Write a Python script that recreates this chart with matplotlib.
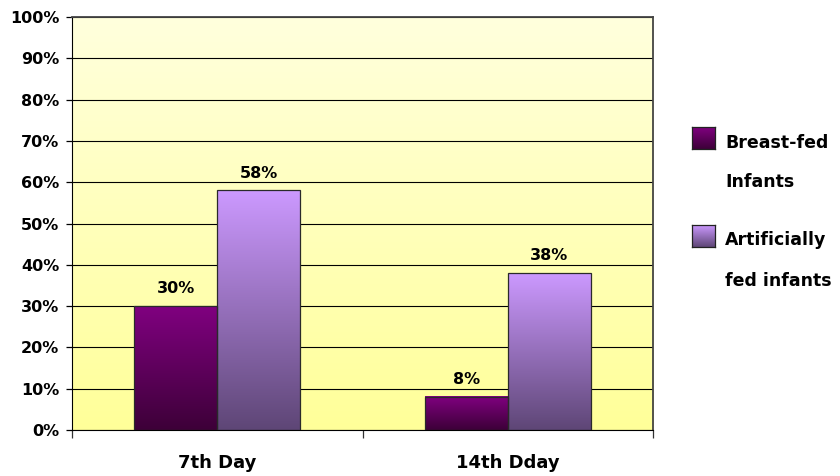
import numpy as np
import matplotlib.pyplot as plt
from matplotlib.colors import LinearSegmentedColormap

plt.rcParams['font.family'] = ['DejaVu Sans']
plt.rcParams['font.weight'] = 'bold'

categories = ['7th Day', '14th Dday']
series_names = ['Breast-fed\n\nInfants', 'Artificially\n\nfed infants']
breast_fed = [30, 8]
artificial = [58, 38]
y_ticks = list(range(0, 101, 10))

# gradient colours, (bottom, top)
grad_colors = [('#3d0038', '#800080'), ('#5e4676', '#cc99ff')]
bg_colors = ('#ffff99', '#ffffdd')

fig = plt.figure(figsize=(8.4, 4.76), dpi=100)
ax = fig.add_axes([0.0857, 0.0966, 0.6917, 0.8676])

x = np.arange(len(categories))
w = 0.286
ax.set_xlim(-0.5, len(categories) - 0.5)
ax.set_ylim(0, 100)

# plot area background gradient
grad = np.linspace(0, 1, 256).reshape(-1, 1)
bg_cmap = LinearSegmentedColormap.from_list('bg', bg_colors)
ax.imshow(grad, cmap=bg_cmap, aspect='auto', origin='lower',
          extent=[-0.5, len(categories) - 0.5, 0, 100], zorder=0)

ax.set_yticks(y_ticks)
ax.yaxis.grid(True, color='black', linewidth=0.8, zorder=1)
ax.set_axisbelow(True)

for vals, offset, cols in [(breast_fed, -w / 2, grad_colors[0]),
                          (artificial, w / 2, grad_colors[1])]:
    bars = ax.bar(x + offset, vals, width=w, facecolor='none',
                  edgecolor='#2a2a2a', linewidth=0.9, zorder=3)
    cmap = LinearSegmentedColormap.from_list('b', cols)
    for b, v in zip(bars, vals):
        x0 = b.get_x()
        ax.imshow(grad, cmap=cmap, aspect='auto', origin='lower',
                  extent=[x0, x0 + b.get_width(), 0, b.get_height()], zorder=2)
        ax.text(x0 + b.get_width() / 2, v + 2.4, f'{v}%', ha='center',
                va='bottom', fontsize=11.5, fontweight='bold', zorder=4)

ax.set_xlim(-0.5, len(categories) - 0.5)
ax.set_ylim(0, 100)
ax.set_yticklabels([f'{t}%' for t in y_ticks], fontsize=11.5, fontweight='bold')
ax.set_xticks(x)
ax.set_xticklabels(categories, fontsize=13, fontweight='bold')
ax.set_xticks([-0.5, 0.5, 1.5], minor=True)
ax.tick_params(axis='x', which='major', length=0, pad=17)
ax.tick_params(axis='x', which='minor', length=6, width=0.9, color='#333333')
ax.tick_params(axis='y', length=4, width=0.9, pad=5)

for s in ['top', 'right']:
    ax.spines[s].set_color('#444444')
    ax.spines[s].set_linewidth(1.3)
ax.spines['left'].set_color('black')
ax.spines['bottom'].set_color('black')

# legend drawn by hand, gradient squares
W, H = 840, 476
leg = [(127, 143, 182), (225, 240, 281)]
for (sq_top, l1, l2), name, cols in zip(leg, series_names, grad_colors):
    sq = fig.add_axes([692 / W, 1 - (sq_top + 22) / H, 23 / W, 22 / H])
    sq.imshow(grad, cmap=LinearSegmentedColormap.from_list('l', cols),
              aspect='auto', origin='lower', extent=[0, 1, 0, 1])
    sq.set_xticks([])
    sq.set_yticks([])
    for s in sq.spines.values():
        s.set_color('#222222')
        s.set_linewidth(0.9)
    first, _, second = name.split('\n')
    fig.text(725 / W, 1 - l1 / H, first, fontsize=12.5, fontweight='bold', va='center')
    fig.text(725 / W, 1 - l2 / H, second, fontsize=12.5, fontweight='bold', va='center')

fig.savefig('out.png', dpi=100)
